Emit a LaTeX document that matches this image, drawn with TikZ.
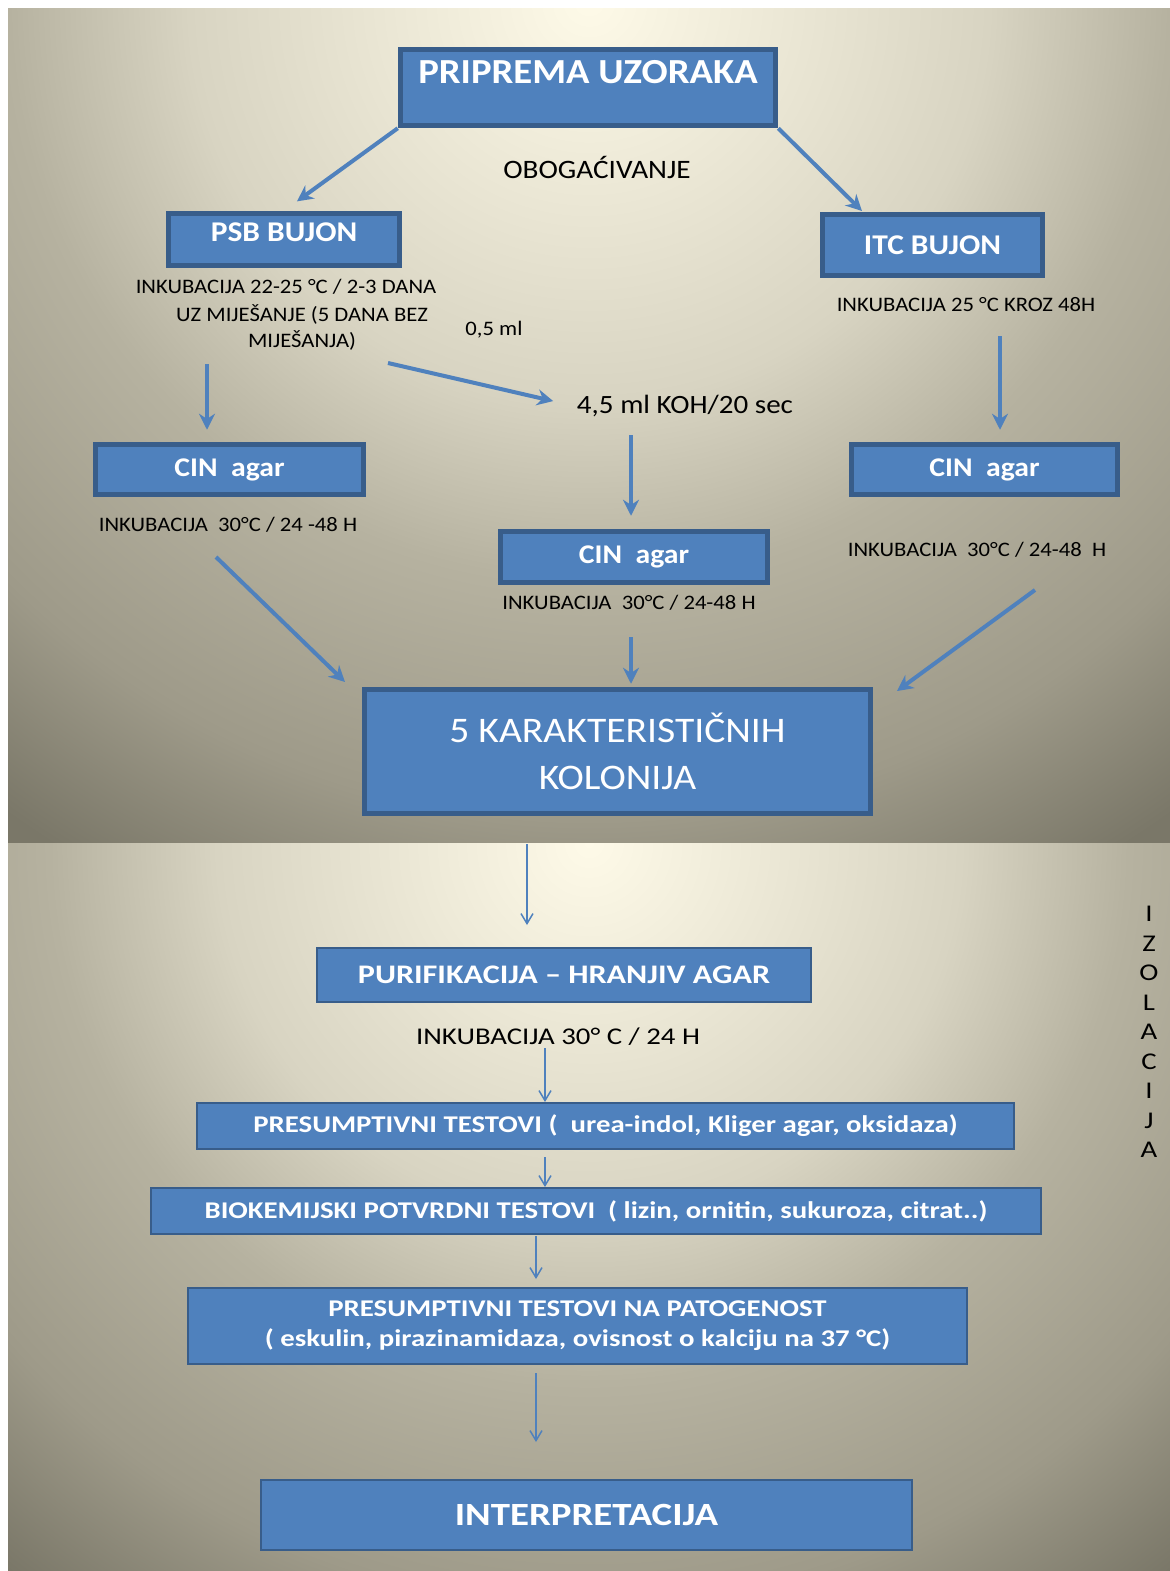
\documentclass[tikz,border=0pt]{standalone}
\usepackage{fontspec}
\setmainfont{Carlito}
\newfontfamily\topfont{Carlito}[FakeStretch=1.1]
\newfontfamily\lowfont{Carlito}[FakeStretch=1.2]
\usetikzlibrary{arrows.meta}

\definecolor{boxblue}{HTML}{4F81BD}
\definecolor{boxline}{HTML}{385D8A}
\definecolor{bgcream}{HTML}{FEFAE8}
\definecolor{bgmid}{HTML}{D8D4C2}
\definecolor{bgside}{HTML}{B6B2A0}
\definecolor{bglow}{HTML}{9E9A89}
\definecolor{bgdark}{HTML}{7A7768}

\pgfdeclareradialshading{slideglow}{\pgfpoint{0bp}{0bp}}{%
  color(0bp)=(bgcream); color(10bp)=(bgmid); color(14.5bp)=(bgside);
  color(20.5bp)=(bglow); color(25bp)=(bgdark); color(50bp)=(bgdark)}

\tikzset{
  bigbox/.style={draw=boxline, fill=boxblue, line width=2.75pt, inner sep=0pt,
    text=white, font=\topfont\bfseries\fontsize{14.3}{17}\selectfont},
  flatbox/.style={draw=boxline, fill=boxblue, line width=1pt, inner sep=0pt,
    text=white, font=\lowfont\bfseries\fontsize{12}{15}\selectfont},
  lbl/.style={inner sep=1pt, font=\topfont\fontsize{10.3}{13}\selectfont},
  fat/.style={boxblue, line width=2pt, -{Stealth[length=8pt,width=8pt]}},
  slim/.style={boxblue, line width=0.75pt, -{Straight Barb[length=5pt,width=6pt]}}
}

\begin{document}
\begin{tikzpicture}[x=0.5pt, y=-0.5pt]
			\useasboundingbox (0,0) rectangle (1170,1571);
			\begin{scope}
				\clip (8,8) rectangle (1170,843);
				\fill[bgdark] (8,8) rectangle (1170,843);
				\shade[shading=slideglow] (589,0) circle (1000);
			\end{scope}
			\begin{scope}
				\clip (8,843) rectangle (1170,1571);
				\fill[bgdark] (8,843) rectangle (1170,1571);
				\shade[shading=slideglow] (589,843) circle (930);
			\end{scope}

			\node[bigbox, minimum width=187.5pt, text height=16.75pt, text depth=21.25pt,
				font=\topfont\bfseries\fontsize{17.6}{22}\selectfont] (prep) at (588,87.5) {PRIPREMA UZORAKA};
			\node[lbl, font=\topfont\fontsize{13.3}{16}\selectfont] (obog) at (597,167) {OBOGAĆIVANJE};
			\node[bigbox, minimum width=115.5pt, text height=13.75pt, text depth=12.25pt] (psb) at (284,239.5) {PSB BUJON};
			\node[bigbox, minimum width=110pt, minimum height=30.5pt] (itc) at (932.5,245) {ITC BUJON};
			\node[lbl] (psbinc) at (286,287) {INKUBACIJA 22-25 °C / 2-3 DANA};
			\node[lbl, align=center] (psbmix) at (302,327) {UZ MIJEŠANJE (5 DANA BEZ\\MIJEŠANJA)};
			\node[lbl] (half) at (494,330) {0,5 ml};
			\node[lbl] (itcinc) at (966,305) {INKUBACIJA 25 °C KROZ 48H};
			\node[lbl, font=\topfont\fontsize{13.2}{16}\selectfont] (koh) at (685,406) {4,5 ml KOH/20 sec};

			\node[bigbox, minimum width=134pt, minimum height=25pt, font=\topfont\bfseries\fontsize{13.5}{16}\selectfont] (cinl) at (229.5,469.5) {CIN~~agar};
			\node[bigbox, minimum width=133pt, minimum height=25pt, font=\topfont\bfseries\fontsize{13.5}{16}\selectfont] (cinr) at (984.5,469.5) {CIN~~agar};
			\node[bigbox, minimum width=133.5pt, minimum height=25.5pt, font=\topfont\bfseries\fontsize{13.5}{16}\selectfont] (cinm) at (634,557) {CIN~~agar};
			\node[lbl] (cinlinc) at (228,525) {INKUBACIJA~~30°C / 24 -48 H};
			\node[lbl] (cinminc) at (629,603) {INKUBACIJA~~30°C / 24-48 H};
			\node[lbl] (cinrinc) at (977,550) {INKUBACIJA~~30°C / 24-48~~H};

			\node[bigbox, minimum width=253pt, minimum height=62pt, align=center,
				font=\topfont\fontsize{18}{23.5}\selectfont] (col) at (617.5,751.5) {5 KARAKTERISTIČNIH\\KOLONIJA};

			\coordinate (itcin) at (862,211);
			\coordinate (kohfrom) at (388,363);
			\coordinate (psbdown) at (207,364);
			\coordinate (kohdown) at (631,435);
			\coordinate (itcdown) at (1000,336);
			\coordinate (cinlout) at (216,557);
			\coordinate (colinl) at (345,682);
			\coordinate (cinmout) at (631,637);
			\coordinate (cinrout) at (1035,590);
			\coordinate (colinr) at (897,691);

			\draw[fat, shorten >=8pt] (prep.south west) to (psb.north);
			\draw[fat] (prep.south east) to (itcin);
			\draw[fat, shorten >=11pt] (kohfrom) to (koh.west);
			\draw[fat, shorten >=6pt] (psbdown) to (psbdown |- cinl.north);
			\draw[fat, shorten >=6.5pt] (kohdown) to (kohdown |- cinm.north);
			\draw[fat, shorten >=6pt] (itcdown) to (itcdown |- cinr.north);
			\draw[fat] (cinlout) to (colinl);
			\draw[fat, shorten >=1.5pt] (cinmout) to (cinmout |- col.north);
			\draw[fat] (cinrout) to (colinr);

			\node[flatbox, minimum width=247pt, minimum height=27pt, font=\lowfont\bfseries\fontsize{13.4}{16}\selectfont] (purif) at (564,975) {PURIFIKACIJA – HRANJIV AGAR};
			\node[lbl, font=\lowfont\fontsize{12}{14}\selectfont] (inc24) at (558,1037) {INKUBACIJA 30° C / 24 H};
			\node[flatbox, minimum width=408.5pt, minimum height=23pt] (pres) at (605.5,1126) {PRESUMPTIVNI TESTOVI (~~urea-indol, Kliger agar, oksidaza)};
			\node[flatbox, minimum width=445pt, minimum height=23pt] (bio) at (596,1211) {BIOKEMIJSKI POTVRDNI TESTOVI~~( lizin, ornitin, sukuroza, citrat..)};
			\node[flatbox, minimum width=389.5pt, minimum height=38pt, align=center] (pato) at (577.5,1326) {PRESUMPTIVNI TESTOVI NA PATOGENOST\\( eskulin, pirazinamidaza, ovisnost o kalciju na 37 °C)};
			\node[flatbox, minimum width=325.5pt, minimum height=35pt,
				font=\lowfont\bfseries\fontsize{16.2}{19}\selectfont] (interp) at (586.5,1515) {INTERPRETACIJA};
			\node[lbl, align=center, font=\lowfont\fontsize{12}{14.75}\selectfont] (izol) at (1149,1032) {I\\Z\\O\\L\\A\\C\\I\\J\\A};

			\coordinate (b0) at (527,844);
			\coordinate (b1) at (545,1048);
			\coordinate (b2) at (545,1157);
			\coordinate (b3) at (536,1236);
			\coordinate (b4) at (536,1373);

			\draw[slim, shorten >=11pt] (b0) to (b0 |- purif.north);
			\draw[slim] (b1) to (b1 |- pres.north);
			\draw[slim] (b2) to (b2 |- bio.north);
			\draw[slim, shorten >=4pt] (b3) to (b3 |- pato.north);
			\draw[slim, shorten >=18.5pt] (b4) to (b4 |- interp.north);
		\end{tikzpicture}
\end{document}
